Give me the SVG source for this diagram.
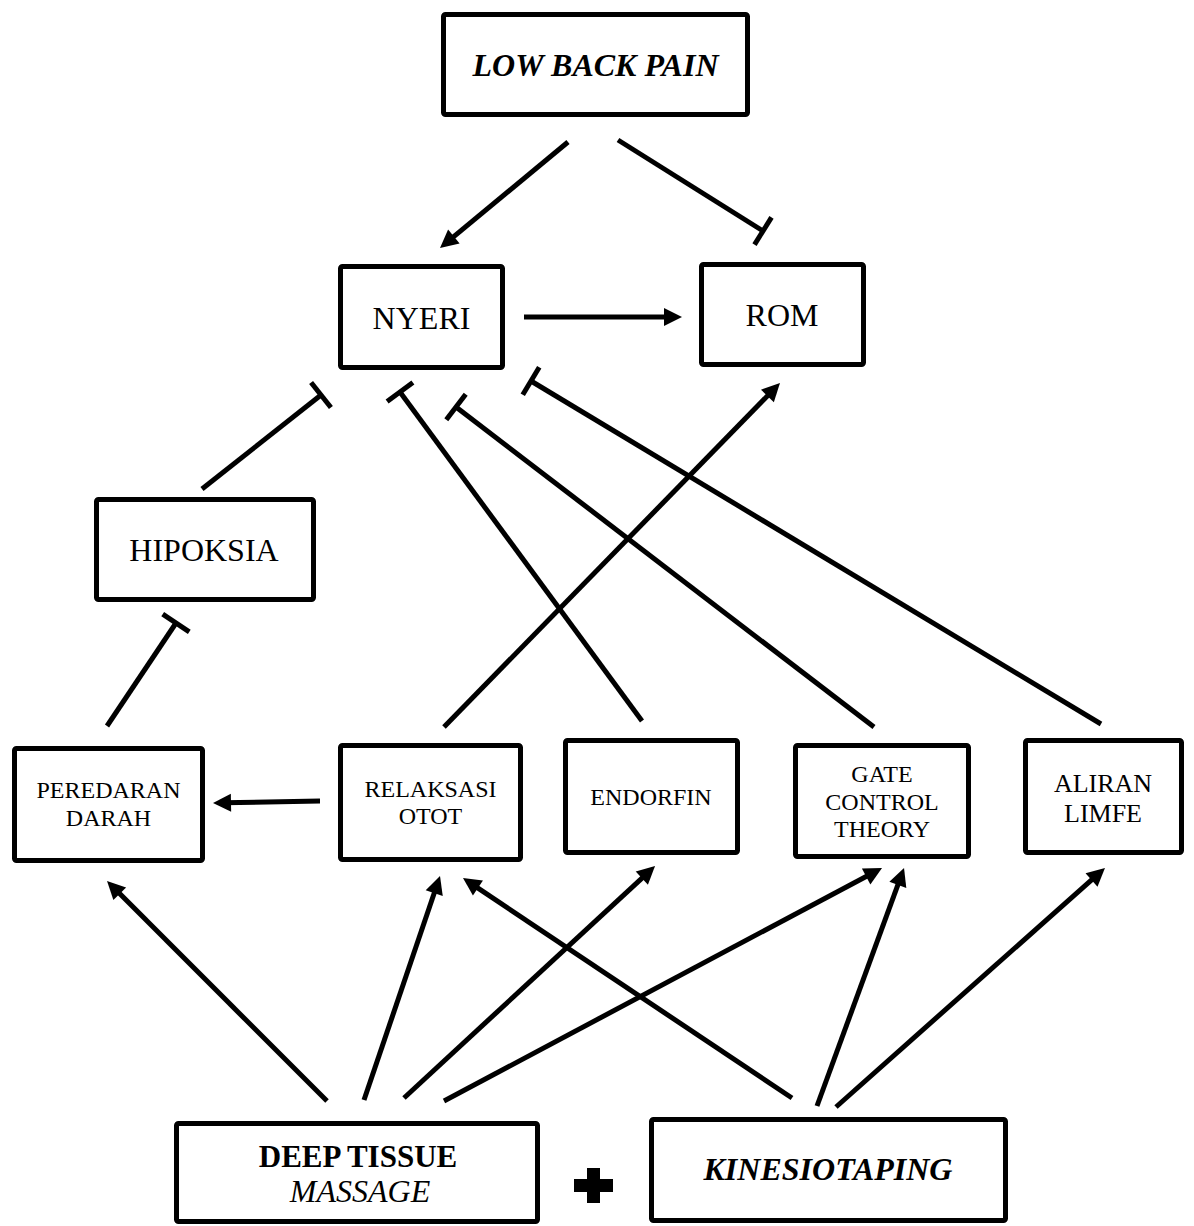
<svg xmlns="http://www.w3.org/2000/svg" width="1194" height="1226" viewBox="0 0 1194 1226">
<defs>
<style>
.box{fill:#fff;stroke:#000;stroke-width:5;}
.t{font-family:"Liberation Serif","Times New Roman",serif;fill:#000;text-anchor:middle;}
.big{font-size:32px;}
.sm{font-size:24px;}
.bi{font-weight:bold;font-style:italic;}
.c{fill:none;stroke:#000;stroke-width:5;}
.arr{marker-end:url(#ah);}
.inh{marker-end:url(#tb);}
</style>
<marker id="ah" markerUnits="userSpaceOnUse" markerWidth="20" markerHeight="20" refX="8" refY="9" orient="auto" overflow="visible">
<path d="M0,0 L18,9 L0,18 z" fill="#000"/>
</marker>
<marker id="tb" markerUnits="userSpaceOnUse" markerWidth="10" markerHeight="40" refX="0" refY="0" viewBox="-5 -20 10 40" orient="auto" overflow="visible">
<path d="M0,-16 L0,16" stroke="#000" stroke-width="5" fill="none"/>
</marker>
</defs>
<rect width="1194" height="1226" fill="#fff"/>
<g id="connectors">
<line class="c arr" x1="568" y1="142" x2="447.7" y2="241.6"/>
<line class="c inh" x1="618" y1="140" x2="763" y2="231"/>
<line class="c arr" x1="524" y1="317" x2="672" y2="317"/>
<line class="c inh" x1="202" y1="489" x2="321" y2="395"/>
<line class="c inh" x1="107" y1="726" x2="176" y2="623"/>
<line class="c arr" x1="320" y1="801" x2="223" y2="802.8"/>
<line class="c arr" x1="444" y1="727" x2="773" y2="390.2"/>
<line class="c inh" x1="642" y1="721" x2="400" y2="392"/>
<line class="c inh" x1="874" y1="727" x2="456" y2="407"/>
<line class="c inh" x1="1101" y1="724" x2="531" y2="381"/>
<line class="c arr" x1="327" y1="1101" x2="114.1" y2="888.1"/>
<line class="c arr" x1="364" y1="1100" x2="436.8" y2="885.5"/>
<line class="c arr" x1="404" y1="1098" x2="647.7" y2="872.8"/>
<line class="c arr" x1="444" y1="1101" x2="873.2" y2="872.7"/>
<line class="c arr" x1="792" y1="1098" x2="471.3" y2="883.6"/>
<line class="c arr" x1="817" y1="1106" x2="900.6" y2="877.4"/>
<line class="c arr" x1="836" y1="1107" x2="1097.5" y2="874.6"/>
</g>
<g id="lbp">
<rect class="box" x="443.5" y="14.5" width="304" height="100" rx="2"/>
<text class="t big bi" x="595.5" y="76">LOW BACK PAIN</text>
</g>
<g id="nyeri">
<rect class="box" x="340.5" y="266.5" width="162" height="101" rx="2"/>
<text class="t big" x="421.5" y="329">NYERI</text>
</g>
<g id="rom">
<rect class="box" x="701.5" y="264.5" width="162" height="100" rx="2"/>
<text class="t big" x="782" y="326">ROM</text>
</g>
<g id="hipoksia">
<rect class="box" x="96.5" y="499.5" width="217" height="100" rx="2"/>
<text class="t big" x="204" y="561">HIPOKSIA</text>
</g>
<g id="peredaran">
<rect class="box" x="14.5" y="748.5" width="188" height="112" rx="2"/>
<text class="t sm" x="108.5" y="798">PEREDARAN</text>
<text class="t sm" x="108.5" y="826">DARAH</text>
</g>
<g id="relaksasi">
<rect class="box" x="340.5" y="745.5" width="180" height="114" rx="2"/>
<text class="t sm" x="430.5" y="797">RELAKSASI</text>
<text class="t sm" x="430.5" y="824">OTOT</text>
</g>
<g id="endorfin">
<rect class="box" x="565.5" y="740.5" width="172" height="112" rx="2"/>
<text class="t sm" x="651" y="805">ENDORFIN</text>
</g>
<g id="gate">
<rect class="box" x="795.5" y="745.5" width="173" height="111" rx="2"/>
<text class="t sm" x="882" y="782">GATE</text>
<text class="t sm" x="882" y="810">CONTROL</text>
<text class="t sm" x="882" y="837">THEORY</text>
</g>
<g id="aliran">
<rect class="box" x="1025.5" y="740.5" width="156" height="112" rx="2"/>
<text class="t" style="font-size:26px" x="1103" y="792">ALIRAN</text>
<text class="t" style="font-size:26px" x="1103" y="822">LIMFE</text>
</g>
<g id="dtm">
<rect class="box" x="176.5" y="1123.5" width="361" height="98" rx="2"/>
<text class="t" style="font-size:31px;font-weight:bold" x="358" y="1167">DEEP TISSUE</text>
<text class="t big" style="font-style:italic" x="360" y="1202">MASSAGE</text>
</g>
<g id="plus">
<rect x="574" y="1179" width="39" height="13" fill="#000"/>
<rect x="587" y="1168" width="13" height="35" fill="#000"/>
</g>
<g id="kt">
<rect class="box" x="651.5" y="1119.5" width="354" height="101" rx="2"/>
<text class="t big bi" x="828" y="1180">KINESIOTAPING</text>
</g>
</svg>
